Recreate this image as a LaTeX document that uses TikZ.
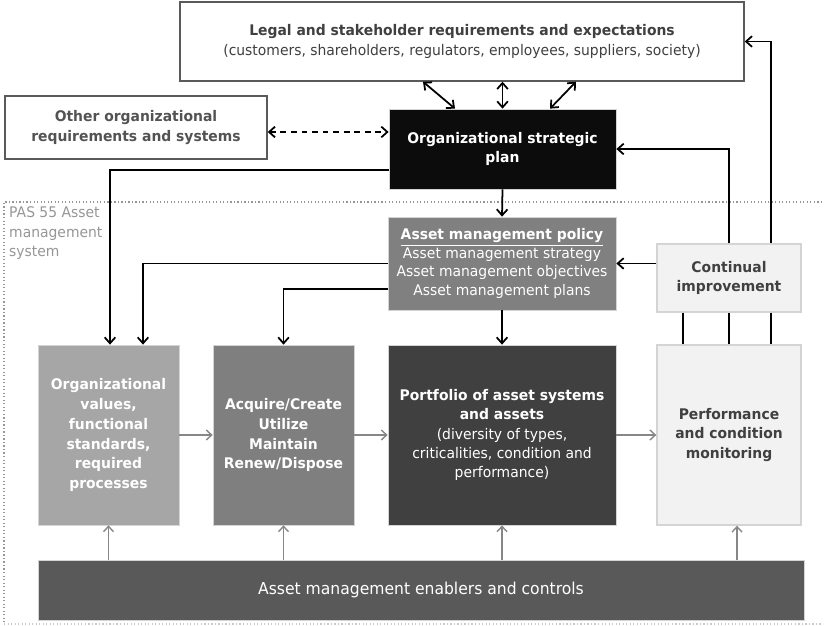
\documentclass[tikz,border=0pt]{standalone}
\usepackage{fontspec}
\setmainfont{DejaVu Sans}[FakeStretch=0.95]
\usepackage{xcolor}
\usetikzlibrary{arrows.meta,calc,backgrounds}
\definecolor{edgegray}{RGB}{90,90,90}
\definecolor{textgray}{RGB}{64,64,64}
\definecolor{plangray}{RGB}{12,12,12}
\definecolor{policygray}{RGB}{128,128,128}
\definecolor{valuesgray}{RGB}{166,166,166}
\definecolor{acquiregray}{RGB}{127,127,127}
\definecolor{portfoliogray}{RGB}{64,64,64}
\definecolor{palegray}{RGB}{242,242,242}
\definecolor{paleedge}{RGB}{212,212,212}
\definecolor{enablergray}{RGB}{89,89,89}
\definecolor{flowgray}{RGB}{135,135,135}
\definecolor{dotgray}{RGB}{150,150,150}

\begin{document}
\begin{tikzpicture}[
    x=0.03cm, y=-0.03cm,
    every node/.style={rectangle, inner sep=0pt, align=center, font=\fontsize{12.5}{16.5}\selectfont},
    boxsize/.style 2 args={minimum width=#1*0.03cm, minimum height=#2*0.03cm},
    outerbox/.style={draw=edgegray, line width=1.2pt, fill=white, text=textgray},
    darkbox/.style={draw=paleedge, line width=0.6pt, text=white, font=\fontsize{12.5}{16.5}\selectfont\bfseries},
    palebox/.style={draw=paleedge, line width=1.2pt, fill=palegray, text=textgray, font=\fontsize{12.5}{16.5}\selectfont\bfseries},
    link/.style={draw, line width=1.5pt, -{Straight Barb[length=1.8mm,width=3.2mm]}},
    twoway/.style={link, {Straight Barb[length=1.8mm,width=3.2mm]}-{Straight Barb[length=1.8mm,width=3.2mm]}},
    flow/.style={draw=flowgray, line width=1.2pt, -{Straight Barb[length=1.6mm,width=3mm]}}
]
\useasboundingbox (0,0) rectangle (824,626);

% PAS 55 system boundary
\draw[dotgray, dotted, line width=1pt] (822,202) -- (4,202) -- (4,624);
\draw[dotgray!50, dotted, line width=1pt] (4,624) -- (822,624);
\node[anchor=north west, text=dotgray, align=left, font=\fontsize{12.5}{17}\selectfont] (pas) at (9,206) {PAS 55 Asset\\management\\system};

% outside the system
\node[outerbox, boxsize={564}{79}, font=\fontsize{12.5}{17}\selectfont] (legal) at (462,41.5)
    {{\bfseries Legal and stakeholder requirements and expectations}\\(customers, shareholders, regulators, employees, suppliers, society)};
\node[outerbox, boxsize={262}{63}, font=\fontsize{12.5}{17}\selectfont\bfseries, text=textgray!90] (other) at (136,127.5)
    {Other organizational\\requirements and systems};
\node[darkbox, fill=plangray, boxsize={227}{80}, font=\fontsize{12.5}{17}\selectfont\bfseries] (plan) at (502.5,149)
    {Organizational strategic\\plan};

% inside the system
\node[darkbox, fill=policygray, boxsize={228}{93}, font=\fontsize{12.5}{15.7}\selectfont] (policy) at (502,263.5)
    {\textbf{\underline{Asset management policy}}\\Asset management strategy\\Asset management objectives\\Asset management plans};
\node[palebox, boxsize={144}{68}] (cont) at (729,278) {Continual\\improvement};
\node[darkbox, fill=valuesgray, boxsize={141}{180}, font=\fontsize{12.5}{17}\selectfont\bfseries] (values) at (108.5,435)
    {Organizational\\values,\\functional\\standards,\\required\\processes};
\node[darkbox, fill=acquiregray, boxsize={141}{180}, font=\fontsize{12.5}{17}\selectfont\bfseries] (acquire) at (283.5,435)
    {Acquire/Create\\Utilize\\Maintain\\Renew/Dispose};
\node[darkbox, fill=portfoliogray, boxsize={228}{180}] (portfolio) at (502,435)
    {Portfolio of asset systems\\and assets\\\mdseries(diversity of types,\\\mdseries criticalities, condition and\\\mdseries performance)};
\node[palebox, boxsize={144}{180}] (perf) at (729,435)
    {Performance\\and condition\\monitoring};
\node[darkbox, fill=enablergray, boxsize={766}{60}, font=\fontsize{14}{17}\selectfont] (enablers) at (421,590)
    {Asset management enablers and controls};

% links to the top
\draw[twoway] ($(legal.south)+(-39,0)$) -- ($(plan.north)+(-47.5,0)$);
\draw[twoway] (plan.north |- legal.south) -- (plan.north);
\draw[twoway] ($(legal.south)+(114,0)$) -- ($(plan.north)+(47.5,0)$);
\draw[twoway, dash pattern=on 5pt off 4pt] ($(other.east)+(0,4.5)$) -- ($(other.east -| plan.west)+(0,4.5)$);

% plan and policy downwards
\draw[link] ($(plan.west)+(0,21)$) -| ($(values.north)+(1.5,0)$);
\draw[link] (policy.west) -| ($(values.north)+(34.5,0)$);
\draw[link] ($(policy.west)+(0,25.5)$) -| (acquire.north);
\draw[link] (plan.south) -- (policy.north);
\draw[link] (policy.south) -- (portfolio.north);

% improvement loop
\draw[link] (policy.east -| cont.west) -- (policy.east);
\draw[link] (cont.north) |- (plan.east);
\draw[line width=1.5pt] ($(perf.north)+(-46,0)$) -- ($(cont.south)+(-46,0)$);
\draw[line width=1.5pt] (perf.north) -- (cont.south);
\begin{scope}[on background layer]
\draw[link] ($(perf.north)+(42,0)$) |- (legal.east);
\end{scope}

% value chain
\draw[flow] (values.east) -- (acquire.west);
\draw[flow] (acquire.east) -- (portfolio.west);
\draw[flow] (portfolio.east) -- (perf.west);
\draw[flow] (enablers.north -| values.south) -- (values.south);
\draw[flow] (enablers.north -| acquire.south) -- (acquire.south);
\draw[flow] (enablers.north -| portfolio.south) -- (portfolio.south);
\draw[flow] ($(enablers.north -| perf.south)+(8,0)$) -- ($(perf.south)+(8,0)$);
\end{tikzpicture}
\end{document}
